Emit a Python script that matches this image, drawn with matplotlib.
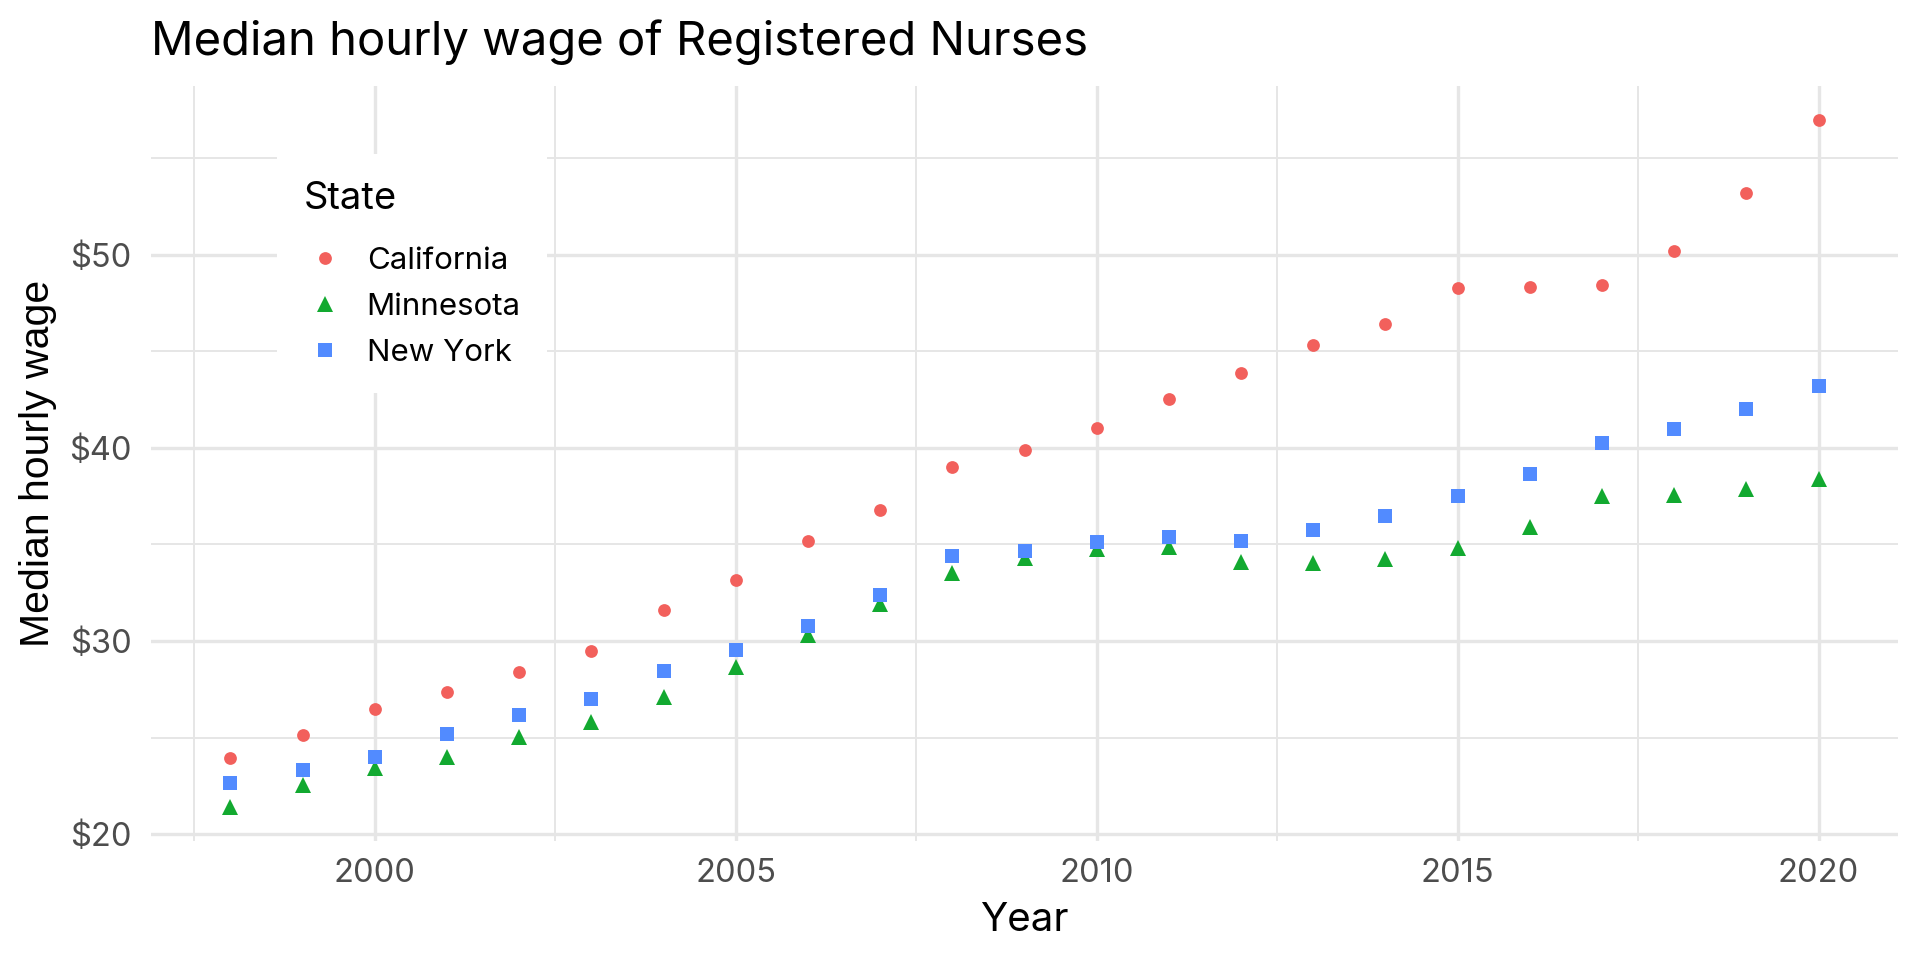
import matplotlib
matplotlib.use("Agg")
import matplotlib.pyplot as plt
from matplotlib.ticker import MultipleLocator, FuncFormatter

plt.rcParams['font.family'] = ['Inter', 'DejaVu Sans']

years = list(range(1998, 2021))
california = [23.97, 25.12, 26.5, 27.36, 28.38, 29.47, 31.6, 33.14, 35.2, 36.76, 39.0, 39.87,
              41.02, 42.52, 43.89, 45.34, 46.4, 48.28, 48.31, 48.45, 50.21, 53.18, 56.95]
minnesota = [21.43, 22.57, 23.43, 23.98, 25.02, 25.81, 27.09, 28.67, 30.3, 31.9, 33.5, 34.3,
             34.74, 34.86, 34.08, 34.02, 34.25, 34.8, 35.92, 37.5, 37.58, 37.87, 38.38]
new_york = [22.67, 23.35, 24.0, 25.2, 26.15, 26.98, 28.45, 29.53, 30.78, 32.4, 34.4, 34.67,
            35.15, 35.39, 35.18, 35.75, 36.49, 37.49, 38.65, 40.23, 41.0, 41.99, 43.2]

states = ["California", "Minnesota", "New York"]
colors = ["#F2605C", "#12A930", "#528BFF"]
markers = ["o", "^", "s"]
msizes = [9.2, 11.8, 9.4]

W, H = 1920, 960
fig = plt.figure(figsize=(19.2, 9.6), dpi=100)
left, right, top, bottom = 151, 1898, 86, 841
ax = fig.add_axes([left / W, 1 - bottom / H, (right - left) / W, (bottom - top) / H])

for name, vals, c, m, ms in zip(states, [california, minnesota, new_york], colors, markers, msizes):
    ax.plot(years, vals, linestyle="none", marker=m, color=c, markersize=ms,
            markeredgewidth=0, label=name, zorder=3)

ax.margins(0.05)

ax.xaxis.set_major_locator(MultipleLocator(5))
ax.xaxis.set_minor_locator(MultipleLocator(2.5))
ax.yaxis.set_major_locator(MultipleLocator(10))
ax.yaxis.set_minor_locator(MultipleLocator(5))
ax.yaxis.set_major_formatter(FuncFormatter(lambda v, p: f"${v:.0f}"))

ax.grid(which="major", color="#E6E6E6", linewidth=2.4)
ax.grid(which="minor", color="#E6E6E6", linewidth=1.4)
ax.set_axisbelow(True)
for s in ax.spines.values():
    s.set_visible(False)
ax.tick_params(which="both", length=0)
ax.tick_params(axis="x", labelsize=23.5, labelcolor="#4D4D4D", pad=12)
ax.tick_params(axis="y", labelsize=23.5, labelcolor="#4D4D4D", pad=14)

ax.set_xlabel("Year", fontsize=29, va="baseline")
ax.xaxis.set_label_coords(0.5, -(931 - bottom) / (bottom - top))
ax.set_ylabel("Median hourly wage", fontsize=29.5, family=["Liberation Sans", "DejaVu Sans"],
              va="center")
ax.yaxis.set_label_coords((38 - left) / (right - left), 0.5)

fig.text(left / W, 1 - 55 / H, "Median hourly wage of Registered Nurses",
         fontsize=34, ha="left", va="baseline")

leg = ax.legend(title="State", loc="upper left", bbox_to_anchor=(277 / W, 1 - 154 / H),
                bbox_transform=fig.transFigure, fontsize=22.5, title_fontsize=27.5,
                alignment="left", frameon=True, fancybox=False, borderpad=0.85,
                handlelength=1.4, handletextpad=0.62, labelspacing=0.57,
                borderaxespad=0, numpoints=1)
leg._legend_box.sep = 22
leg.get_frame().set_facecolor("white")
leg.get_frame().set_edgecolor("none")
leg.get_frame().set_alpha(1)

fig.savefig("out.png", dpi=100, facecolor="white")
